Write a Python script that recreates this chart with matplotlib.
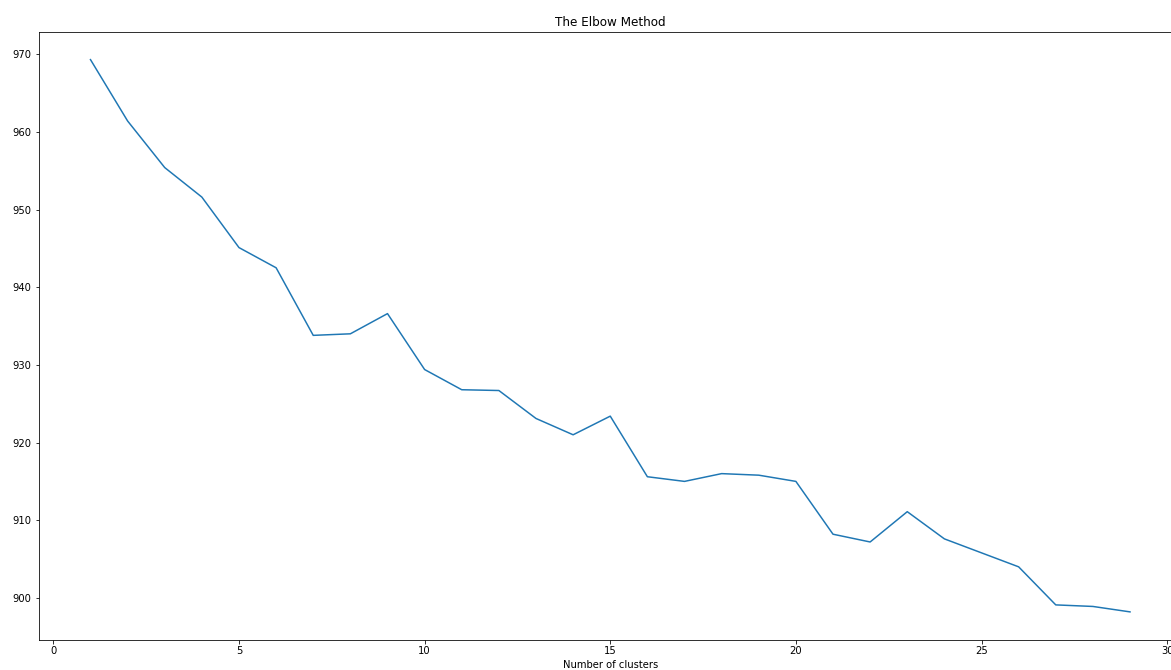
import numpy as np
import matplotlib
matplotlib.use("Agg")
import matplotlib.pyplot as plt

# WCSS for k = 1..29 clusters
n_clusters = list(range(1, 30))
wcss = [969.3, 961.4, 955.4, 951.6, 945.1, 942.5, 933.8, 934.0, 936.6, 929.4,
        926.8, 926.7, 923.1, 921.0, 923.4, 915.6, 915.0, 916.0, 915.8, 915.0,
        908.2, 907.2, 911.1, 907.6, 905.8, 904.0, 899.1, 898.9, 898.2]

W, H, DPI = 1171, 670, 72
fig = plt.figure(figsize=(W / DPI, H / DPI), dpi=DPI)

# axes run a little past the right edge of the canvas
left, right, top, bottom = 38.5, 1182.0, 32.0, 639.5
ax = fig.add_axes([left / W, (H - bottom) / H, (right - left) / W, (bottom - top) / H])

ax.plot(n_clusters, wcss)
ax.set_title('The Elbow Method')
ax.set_xlabel('Number of clusters')
ax.set_xticks([0, 5, 10, 15, 20, 25, 30])

fig.savefig('out.png', dpi=DPI)
